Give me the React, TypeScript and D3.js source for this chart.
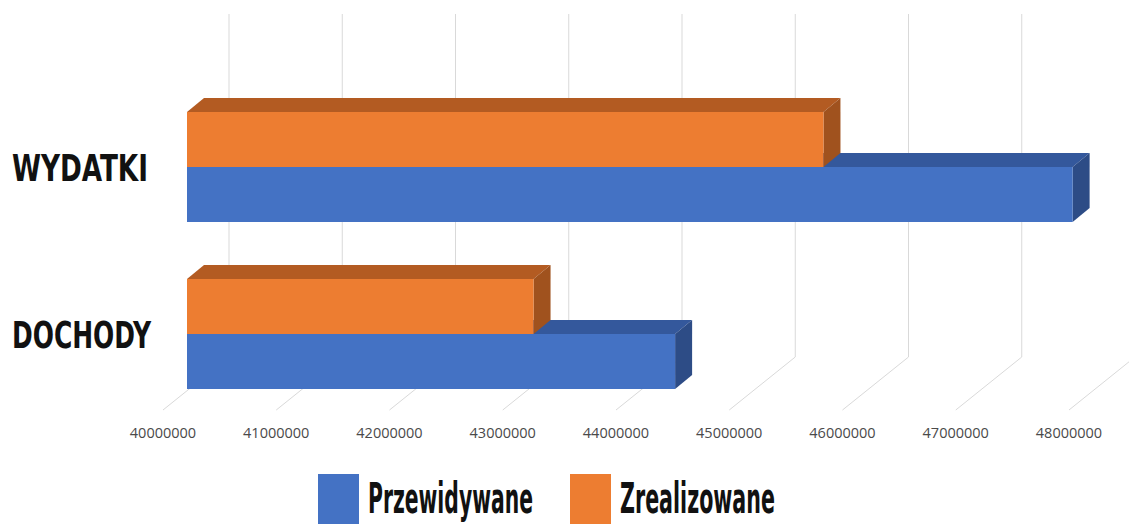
import { useEffect, useRef } from "react";
import * as d3 from "d3";

// dane
const categories = ["WYDATKI", "DOCHODY"];
const seriesNames = ["Zrealizowane", "Przewidywane"];
const przewidywane = [47820000, 44310000];
const zrealizowane = [45620000, 43060000];
const ticks = [40000000, 41000000, 42000000, 43000000, 44000000, 45000000, 46000000, 47000000, 48000000];
const legendLabels = ["Przewidywane", "Zrealizowane"];

const colors = {
  Przewidywane: { front: "#4472C4", top: "#34589C", side: "#2D4C86" },
  Zrealizowane: { front: "#ED7D31", top: "#B35B22", side: "#A0521E" },
};

// rozciaga/sciska tekst poziomo do zadanej szerokosci
const fitText = (sel: any, x: number, y: number, target: number) => {
  const node = sel.node() as SVGTextElement;
  const w = node.getBBox().width || target;
  sel.attr("x", 0).attr("y", 0).attr("transform", `translate(${x},${y}) scale(${target / w},1)`);
};

const App = () => {
  const chartRef = useRef<SVGSVGElement>(null);

  useEffect(() => {
    const width = 1129;
    const height = 524;
    const svg = d3.select(chartRef.current);
    svg.selectAll("*").remove();
    svg.attr("width", width).attr("height", height);

    // skala na przedniej krawedzi podlogi
    const x = d3.scaleLinear().domain([40000000, 48000000]).range([163, 1069]);
    const floorY = 410;
    const wall = { dx: 66, dy: -53 };
    const front = { dx: 24 }; // przesuniecie przedniej sciany slupkow
    const depth = { dx: 17, dy: -14 };
    const wallTop = 14;

    const yCat = d3.scaleBand().domain(categories).range([83.5, 417.5]);
    const groupH = 110;
    const ySer = d3.scaleBand().domain(seriesNames).range([0, groupH]);

    // siatka: sciana tylna + podloga
    const grid = svg.append("g").attr("stroke", "#d9d9d9").attr("stroke-width", 1).attr("fill", "none");
    ticks.forEach((t) => {
      const xb = x(t) + wall.dx;
      const yb = floorY + wall.dy;
      grid.append("path").attr("d", `M${xb},${wallTop}L${xb},${yb}L${x(t)},${floorY}`);
    });

    // etykiety osi X
    svg.append("g")
      .selectAll("text")
      .data(ticks)
      .enter()
      .append("text")
      .attr("x", (d) => x(d))
      .attr("y", 438)
      .attr("text-anchor", "middle")
      .attr("font-family", "'Open Sans', 'Liberation Sans', sans-serif")
      .attr("font-size", 14.5)
      .attr("fill", "#4a4a4a")
      .text((d) => d);

    // slupki 3D
    const bars: { cat: string; series: string; value: number }[] = [];
    categories.forEach((c, i) => {
      bars.push({ cat: c, series: "Przewidywane", value: przewidywane[i] });
      bars.push({ cat: c, series: "Zrealizowane", value: zrealizowane[i] });
    });

    const barG = svg.append("g");
    bars.forEach((b) => {
      const col = colors[b.series as keyof typeof colors];
      const x0 = x(40000000) + front.dx;
      const x1 = x(b.value) + front.dx;
      const y0 = (yCat(b.cat) as number) + (yCat.bandwidth() - groupH) / 2 + (ySer(b.series) as number);
      const y1 = y0 + ySer.bandwidth();
      const g = barG.append("g");
      g.append("polygon")
        .attr("points", [[x0, y0], [x1, y0], [x1 + depth.dx, y0 + depth.dy], [x0 + depth.dx, y0 + depth.dy]].join(" "))
        .attr("fill", col.top);
      g.append("polygon")
        .attr("points", [[x1, y0], [x1 + depth.dx, y0 + depth.dy], [x1 + depth.dx, y1 + depth.dy], [x1, y1]].join(" "))
        .attr("fill", col.side);
      g.append("rect")
        .attr("x", x0)
        .attr("y", y0)
        .attr("width", x1 - x0)
        .attr("height", y1 - y0)
        .attr("fill", col.front);
    });

    // etykiety kategorii
    const boldFont = "'Liberation Sans Narrow', 'DejaVu Sans Condensed', 'Roboto', sans-serif";
    const catWidths: Record<string, number> = { WYDATKI: 136, DOCHODY: 140 };
    categories.forEach((c) => {
      const t = svg.append("text")
        .attr("font-family", boldFont)
        .attr("font-weight", "bold")
        .attr("font-size", 38)
        .attr("fill", "#111")
        .text(c);
      fitText(t, 12, (yCat(c) as number) + yCat.bandwidth() / 2 + 14, catWidths[c]);
    });

    // legenda
    const legendX = [318, 570];
    const legendW = [165, 155];
    const leg = svg.append("g");
    legendLabels.forEach((name, i) => {
      leg.append("rect")
        .attr("x", legendX[i])
        .attr("y", 474)
        .attr("width", 41)
        .attr("height", 60)
        .attr("fill", colors[name as keyof typeof colors].front);
      const t = leg.append("text")
        .attr("font-family", boldFont)
        .attr("font-weight", "bold")
        .attr("font-size", 42)
        .attr("fill", "#111")
        .text(name);
      fitText(t, legendX[i] + 50, 513, legendW[i]);
    });
  }, []);

  return (
    <svg
      ref={chartRef}
      style={{ position: "absolute", left: 0, top: 0, background: "#fff", display: "block" }}
    ></svg>
  );
};

export default App;
